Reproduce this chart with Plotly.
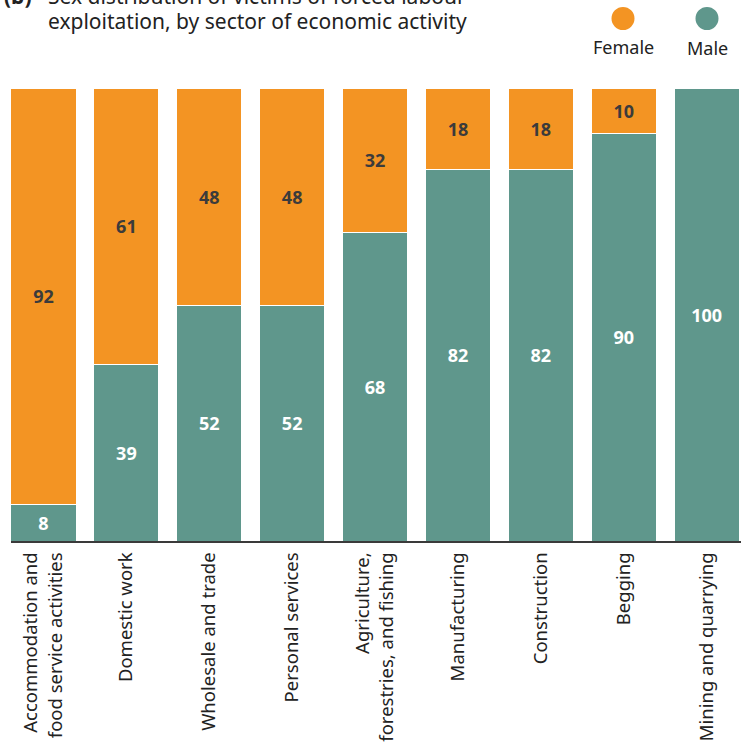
import plotly.graph_objects as go

categories = [
    "Accommodation and<br>food service activities",
    "Domestic work",
    "Wholesale and trade",
    "Personal services",
    "Agriculture,<br>forestries, and fishing",
    "Manufacturing",
    "Construction",
    "Begging",
    "Mining and quarrying",
]
male = [8, 39, 52, 52, 68, 82, 82, 90, 100]
female = [92, 61, 48, 48, 32, 18, 18, 10, 0]

ORANGE = "#F39423"
GREEN = "#5F978C"
FONT = "Noto Sans"

fig = go.Figure()
fig.add_trace(go.Bar(
    x=categories, y=male, name="Male",
    marker=dict(color=GREEN, line=dict(color="white", width=1)),
    text=[str(v) for v in male], textposition="inside", insidetextanchor="middle",
    textfont=dict(color="white", size=18, family=FONT, weight="bold"),
    showlegend=False, hoverinfo="skip",
))
fig.add_trace(go.Bar(
    x=categories, y=female, name="Female",
    marker=dict(color=ORANGE, line=dict(color="white", width=1)),
    text=[str(v) if v > 0 else "" for v in female], textposition="inside", insidetextanchor="middle",
    textfont=dict(color="#3b3b3b", size=18, family=FONT, weight="bold"),
    showlegend=False, hoverinfo="skip",
))

PL, PR, PT, PB = 11, 741, 88, 541  # plot area in pixels
PW, PH = PR - PL, PB - PT


def px_x(x):
    return (x - PL) / PW


def px_y(y):
    return (PB - y) / PH


fig.update_layout(
    barmode="stack",
    bargap=0.215,
    width=741, height=742,
    margin=dict(l=PL, r=741 - PR, t=PT, b=742 - PB, autoexpand=False),
    plot_bgcolor="white", paper_bgcolor="white",
    font=dict(family=FONT, color="#222222"),
    uniformtext=dict(minsize=10, mode="show"),
    xaxis=dict(
        range=[-0.392, 8.415], tickangle=-90, showgrid=False,
        showline=True, linecolor="#3a3a3a", linewidth=2,
        tickfont=dict(size=18.5, family=FONT, color="#222222"),
        ticks="", ticklabelstandoff=2, fixedrange=True, automargin=False,
    ),
    yaxis=dict(range=[0, 100], visible=False, fixedrange=True),
)

# title (top line cut off in the reference)
fig.add_annotation(
    text="<b>(b)</b>", xref="paper", yref="paper", x=px_x(2), y=px_y(-4),
    xanchor="left", yanchor="middle", showarrow=False,
    font=dict(size=21, family=FONT, color="#222222"),
)
fig.add_annotation(
    text="Sex distribution of victims of forced labour",
    xref="paper", yref="paper", x=px_x(46), y=px_y(-4),
    xanchor="left", yanchor="middle", showarrow=False,
    font=dict(size=21, family=FONT, color="#222222"),
)
fig.add_annotation(
    text="exploitation, by sector of economic activity",
    xref="paper", yref="paper", x=px_x(46), y=px_y(21),
    xanchor="left", yanchor="middle", showarrow=False,
    font=dict(size=21, family=FONT, color="#222222"),
)

# custom legend: circles above labels
for name, color, cx, ly in [("Female", ORANGE, 623, 47), ("Male", GREEN, 707, 48)]:
    fig.add_shape(
        type="circle", xref="paper", yref="paper",
        xsizemode="pixel", ysizemode="pixel",
        xanchor=px_x(cx), yanchor=px_y(18.5),
        x0=-11.5, x1=11.5, y0=-11.5, y1=11.5,
        fillcolor=color, line=dict(width=0),
    )
    fig.add_annotation(
        text=name, xref="paper", yref="paper", x=px_x(cx), y=px_y(ly),
        xanchor="center", yanchor="middle", showarrow=False,
        font=dict(size=18, family=FONT, color="#222222"),
    )

fig.write_html(
    "out.html",
    config={"displayModeBar": False},
    post_script="document.body.style.margin='0';document.body.style.overflow='hidden';",
)
